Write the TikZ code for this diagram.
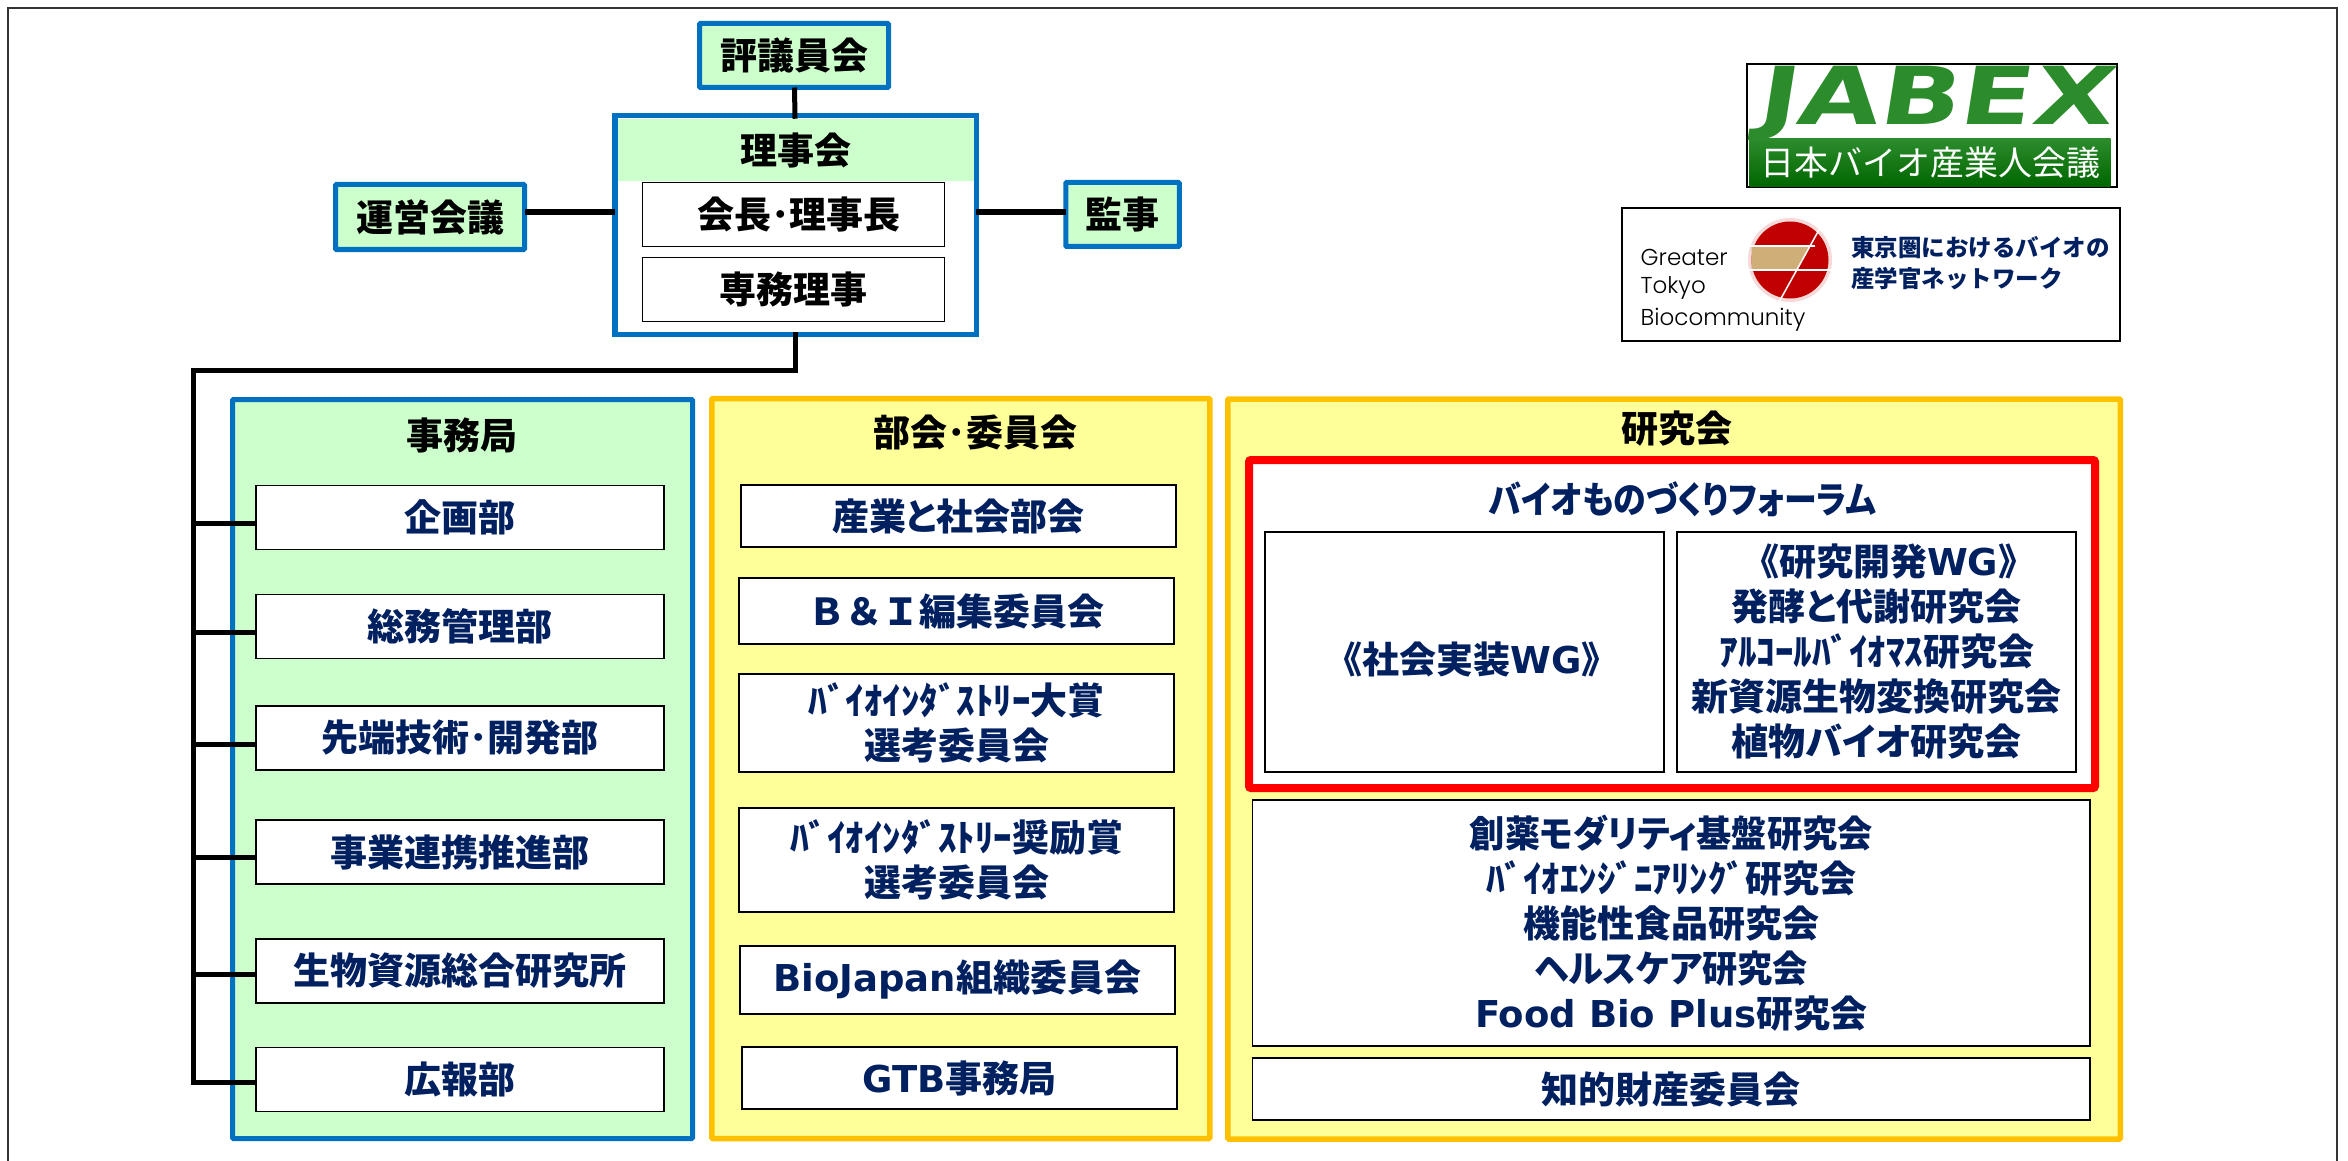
\documentclass[tikz,border=0pt]{standalone}
\usepackage{fontspec}
\setmainfont{Noto Sans CJK JP}[RawFeature=+palt]
\newfontfamily\fullfont{Noto Sans CJK JP}
\newfontfamily\latfont{DejaVu Sans}
\newfontfamily\jabexfont{DejaVu Sans}[BoldFeatures={FakeSlant=0.12}]
\newfontfamily\gtbfont{Poppins Light}
\newcommand{\lat}[1]{{\latfont\bfseries #1}}
\newcommand{\fw}[1]{{\fullfont\bfseries #1}}
\definecolor{frameblue}{HTML}{0070C0}
\definecolor{paleGreen}{HTML}{CCFFCC}
\definecolor{goldline}{HTML}{FFC000}
\definecolor{paleYellow}{HTML}{FFFF99}
\definecolor{navytext}{HTML}{002060}
\definecolor{gtbred}{HTML}{C00000}
\definecolor{gtbtan}{HTML}{CFAE78}
\definecolor{jabexgreen}{HTML}{2C8C2C}
\tikzset{
  jptext/.style={font=\fontsize{37}{45}\selectfont\bfseries, align=center, inner sep=0pt, outer sep=0pt},
  panelblue/.style={jptext, draw=frameblue, fill=paleGreen, line width=5pt, rounded corners=1pt},
  panelgold/.style={draw=goldline, fill=paleYellow, line width=5.5pt, rounded corners=1pt, outer sep=0pt},
  panelgreen/.style={draw=frameblue, fill=paleGreen, line width=5pt, rounded corners=1pt, outer sep=0pt},
  unitbox/.style={jptext, text=navytext, draw=black, fill=white, line width=1.8pt},
  headbox/.style={jptext, text=black, draw=black, fill=white, line width=1.5pt},
  title/.style={jptext, text=black},
  wire/.style={draw=black, line width=5pt},
}
\begin{document}
\begin{tikzpicture}[x=1pt,y=-1pt]
  \useasboundingbox (0,0) rectangle (2348,1161);
  \draw [line width=2.5pt, color=black!80] (8,1161) -- (8,8) -- (2337,8) -- (2337,1161);

  % top of the chart
  \node [panelblue, minimum width=189pt, minimum height=64pt] (hyogi) at (794,55.5) {評議員会};
  \node [draw=frameblue, fill=white, line width=5.5pt, outer sep=0pt, minimum width=361.5pt, minimum height=218.5pt] (riji) at (795.5,225) {};
  \node [fill=paleGreen, title, minimum width=356pt, minimum height=62.5pt] (rijihead) at (795.5,150) {理事会};
  \node [headbox, minimum width=302pt, minimum height=64pt] (kaicho) at (793.5,214.5) {\hspace*{11pt}会長･理事長};
  \node [headbox, minimum width=302pt, minimum height=64pt] (senmu) at (793.5,289.5) {専務理事};
  \node [panelblue, minimum width=189pt, minimum height=65pt] (unei) at (430,217) {運営会議};
  \node [panelblue, minimum width=113.5pt, minimum height=64pt] (kanji) at (1122.5,214.5) {監事};

  % the three panels
  \node [panelgreen, minimum width=460pt, minimum height=739pt] (jimu) at (462.5,769) {};
  \node [panelgold, minimum width=498pt, minimum height=740pt] (bukai) at (960.75,768.5) {};
  \node [panelgold, minimum width=892.5pt, minimum height=740pt] (kenkyu) at (1674,769) {};
  \node [title] (jimutitle) at (462,435) {事務局};
  \node [title] (bukaititle) at (975.5,432) {部会･委員会};
  \node [title] (kenkyutitle) at (1676.5,429) {研究会};

  % left panel
  \node [unitbox, minimum width=408pt, minimum height=64pt] (kikaku) at (460,517.5) {企画部};
  \node [unitbox, minimum width=408pt, minimum height=64pt] (somu) at (460,626.5) {総務管理部};
  \node [unitbox, minimum width=408pt, minimum height=64pt] (sentan) at (460,738) {先端技術･開発部};
  \node [unitbox, minimum width=408pt, minimum height=64pt] (jigyo) at (460,852) {事業連携推進部};
  \node [unitbox, minimum width=408pt, minimum height=64pt] (seibutsu) at (460,971) {生物資源総合研究所};
  \node [unitbox, minimum width=408pt, minimum height=64pt] (koho) at (460,1079.5) {広報部};

  % connectors
  \coordinate (busturn) at (193.5,370.5);
  \draw [wire] (hyogi) -- (rijihead);
  \draw [wire, line width=6pt] ([yshift=5pt]unei.east) -- ([yshift=5pt]unei.east -| riji.west);
  \draw [wire, line width=6pt] ([yshift=2.5pt]kanji.west) -- ([yshift=2.5pt]kanji.west -| riji.east);
  \draw [wire, line join=miter, line cap=rect] (riji.south) -- (riji.south |- busturn) -- (busturn) -- ([yshift=-2.5pt]koho.west -| busturn);
  \foreach \n/\s in {kikaku/5.5, somu/5.5, sentan/6, jigyo/5, seibutsu/3, koho/2.5}
    \draw [wire] ([yshift=-\s pt]\n.west -| busturn) -- ([yshift=-\s pt]\n.west);

  % middle panel
  \node [unitbox, minimum width=435pt, minimum height=62pt] (sangyo) at (958.5,516) {産業と社会部会};
  \node [unitbox, minimum width=435pt, minimum height=66pt] (hensyu) at (956.75,611) {\fw{Ｂ＆Ｉ}編集委員会};
  \node [unitbox, minimum width=435pt, minimum height=98pt] (taisho) at (956.75,723) {\fw{ﾊﾞｲｵｲﾝﾀﾞｽﾄﾘｰ}大賞\\選考委員会};
  \node [unitbox, minimum width=435pt, minimum height=104pt] (shorei) at (956.75,860) {\fw{ﾊﾞｲｵｲﾝﾀﾞｽﾄﾘｰ}奨励賞\\選考委員会};
  \node [unitbox, minimum width=435pt, minimum height=68pt] (biojapan) at (957.25,980) {\lat{BioJapan}組織委員会};
  \node [unitbox, minimum width=435pt, minimum height=62pt] (gtb) at (959.75,1078) {\lat{GTB}事務局};

  % right panel
  \node [draw=red, line width=8pt, rounded corners=2pt, fill=white, outer sep=0pt, minimum width=846pt, minimum height=328pt] (forumred) at (1672,624) {};
  \node [title, text=navytext] (forum) at (1682.5,499) {\scalebox{0.89}[1]{バイオものづくりフォーラム}};
  \node [unitbox, minimum width=399pt, minimum height=240pt] (shakai) at (1464.25,652) {};
  \node [title, text=navytext] (shakaitext) at (1472,659.5) {\fw{《}社会実装\lat{WG}\fw{》}};
  \node [unitbox, minimum width=399pt, minimum height=240pt] (kaihatsu) at (1876.75,652) {\hspace*{24pt}\fw{《}研究開発\lat{WG}\fw{》}\\発酵と代謝研究会\\\fw{ｱﾙｺｰﾙﾊﾞｲｵﾏｽ}研究会\\新資源生物変換研究会\\植物バイオ研究会};
  \node [unitbox, minimum width=837.5pt, minimum height=246pt] (others) at (1671.25,923) {\scalebox{0.95}[1]{創薬モダリティ基盤研究会}\\\fw{ﾊﾞｲｵｴﾝｼﾞﾆｱﾘﾝｸﾞ}研究会\\機能性食品研究会\\\scalebox{0.95}[1]{ヘルスケア研究会}\\\lat{Food Bio Plus}研究会};
  \node [unitbox, minimum width=837.5pt, minimum height=62pt] (chiteki) at (1671.25,1089) {知的財産委員会};

  % JABEX logo
  \draw [line width=2pt, fill=white] (1747,64) rectangle (2117,187);
  \node [inner sep=0pt, text=jabexgreen] (jabex) at (1934,103) {\scalebox{1.32}[1]{\fontsize{80}{80}\selectfont\jabexfont\bfseries JABEX}};
  \node [inner sep=0pt, outer sep=0pt, top color=jabexgreen, bottom color=green!40!black, text=white, minimum width=361pt, minimum height=48pt, font=\fontsize{34}{36}\selectfont\fullfont] (jabexband) at (1930,162.5) {日本バイオ産業人会議};

  % GTB logo
  \draw [line width=2pt] (1621.5,208) rectangle (2120,340.5);
  \fill [gtbred!15] (1790,260) circle [radius=42];
  \fill [gtbred] (1790,260) circle [radius=38.5];
  \fill [gtbtan] (1751.5,246) -- (1810,246) -- (1797,270) -- (1751.5,270) -- cycle;
  \draw [white, line width=1.5pt] (1748,246) -- (1815,246);
  \draw [white, line width=1.5pt] (1748,270) -- (1834,270);
  \draw [white, line width=1.5pt] (1820,228) -- (1779,302);
  \node [anchor=west, inner sep=0pt, font=\fontsize{23}{30}\selectfont\gtbfont] (greater) at (1640.5,257) {Greater};
  \node [anchor=west, inner sep=0pt, font=\fontsize{23}{30}\selectfont\gtbfont] (tokyo) at (1640.5,288) {Tokyo};
  \node [anchor=west, inner sep=0pt, font=\fontsize{23}{30}\selectfont\gtbfont] (biocom) at (1640.5,320) {Biocommunity};
  \node [anchor=west, inner sep=0pt, text=navytext, font=\fontsize{23.5}{31}\selectfont\fullfont\bfseries, align=left] (gtbnet) at (1851,263.5) {東京圏におけるバイオの\\産学官ネットワーク};
\end{tikzpicture}
\end{document}
